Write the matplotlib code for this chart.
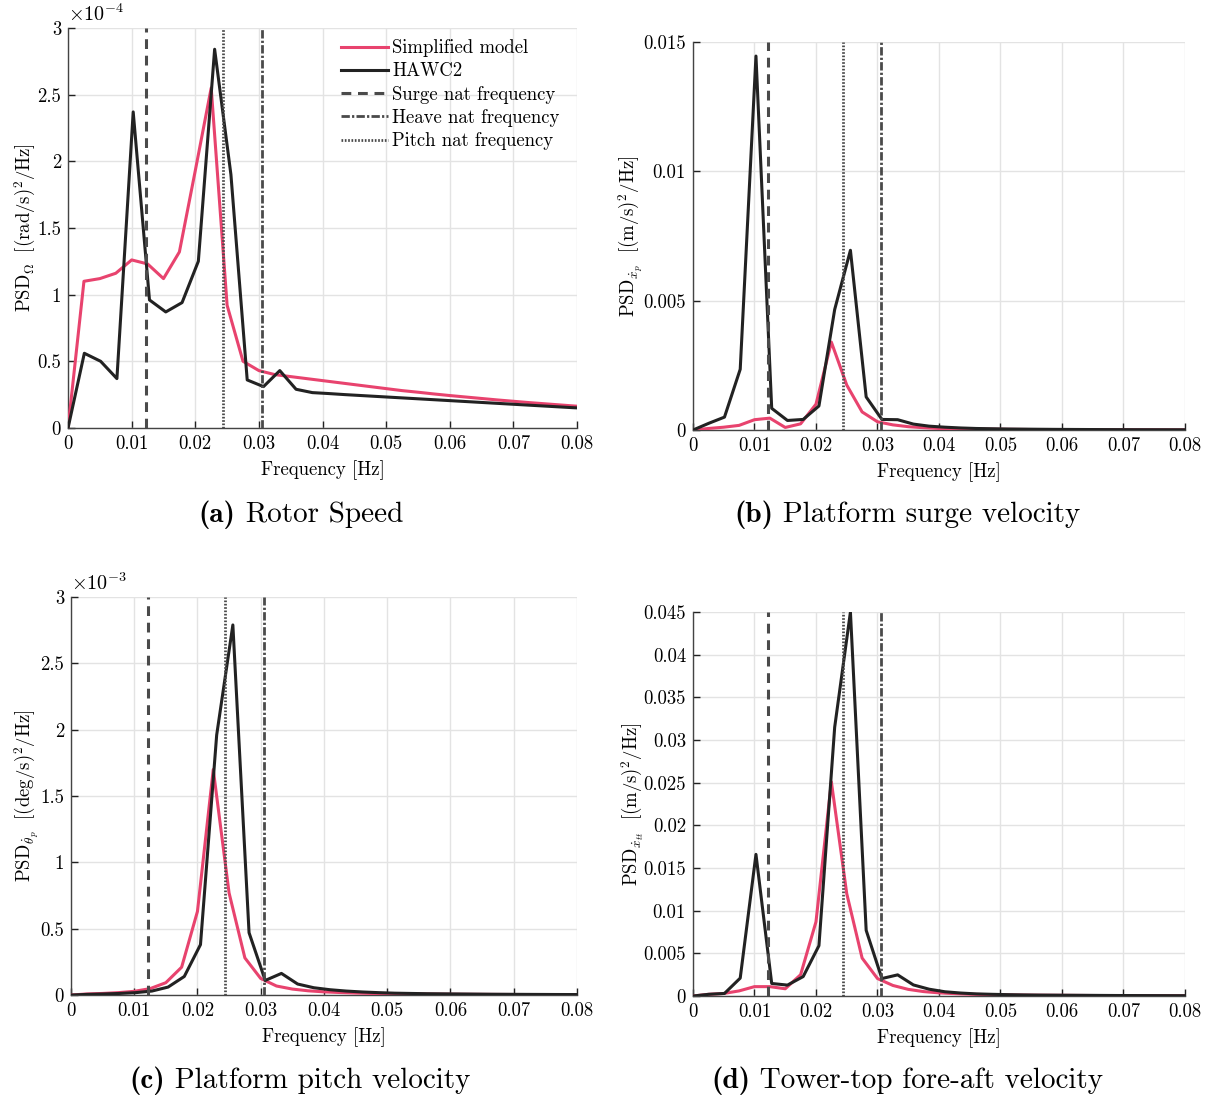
import matplotlib
matplotlib.use("Agg")
import matplotlib.pyplot as plt
from matplotlib.ticker import FuncFormatter

plt.rcParams['font.family'] = 'cmr10'
plt.rcParams['mathtext.fontset'] = 'cm'
plt.rcParams['axes.unicode_minus'] = False

# frequency grids [Hz]
freq_simp = [0, 0.0025, 0.005, 0.0075, 0.01, 0.0125, 0.015, 0.0175, 0.02, 0.0225, 0.025,
             0.0275, 0.03, 0.0325, 0.035, 0.0375, 0.04, 0.0425, 0.045, 0.0475, 0.05,
             0.0525, 0.055, 0.0575, 0.06, 0.0625, 0.065, 0.0675, 0.07, 0.0725, 0.075,
             0.0775, 0.08]
freq_hawc = [0, 0.00256, 0.00512, 0.00768, 0.01024, 0.0128, 0.01536, 0.01792, 0.02048,
             0.02304, 0.0256, 0.02816, 0.03072, 0.03328, 0.03584, 0.0384, 0.04096, 0.04352,
             0.04608, 0.04864, 0.0512, 0.05376, 0.05632, 0.05888, 0.06144, 0.064, 0.06656,
             0.06912, 0.07168, 0.07424, 0.0768, 0.07936, 0.08192]

# natural frequencies [Hz]
f_surge = 0.0122
f_heave = 0.0305
f_pitch = 0.0244

# (a) rotor speed, units of 1e-4
rotor_simp = [0, 1.10, 1.12, 1.16, 1.26, 1.23, 1.12, 1.32, 1.93, 2.55, 0.92, 0.50, 0.43,
              0.40, 0.385, 0.37, 0.355, 0.34, 0.325, 0.31, 0.295, 0.28, 0.268, 0.255,
              0.243, 0.232, 0.221, 0.21, 0.20, 0.19, 0.181, 0.172, 0.163]
rotor_hawc = [0, 0.56, 0.50, 0.37, 2.37, 0.96, 0.87, 0.94, 1.25, 2.84, 1.90, 0.36, 0.31,
              0.43, 0.29, 0.265, 0.258, 0.25, 0.243, 0.236, 0.229, 0.222, 0.215, 0.208,
              0.201, 0.194, 0.187, 0.18, 0.173, 0.166, 0.159, 0.152, 0.146]

# (b) platform surge velocity
surge_simp = [0, 0.00006, 0.00011, 0.00018, 0.00040, 0.00046, 0.00010, 0.00024, 0.00100,
              0.00340, 0.00174, 0.00070, 0.00032, 0.00020, 0.00013, 0.00009, 0.00006,
              0.00005, 0.00004, 0.000035, 0.00003, 0.000025, 0.00002, 0.00002, 0.000018,
              0.000016, 0.000014, 0.000012, 0.00001, 0.00001, 0.000009, 0.000008, 0.000008]
surge_hawc = [0, 0.00026, 0.00050, 0.00235, 0.01446, 0.00084, 0.00037, 0.00041, 0.00093,
              0.00466, 0.00695, 0.00128, 0.00041, 0.00040, 0.00023, 0.00015, 0.00011,
              0.00008, 0.00006, 0.00005, 0.00004, 0.000035, 0.00003, 0.000026, 0.000023,
              0.00002, 0.000018, 0.000016, 0.000014, 0.000013, 0.000012, 0.000011, 0.00001]

# (c) platform pitch velocity, units of 1e-3
pitch_simp = [0, 0.008, 0.012, 0.018, 0.028, 0.048, 0.093, 0.21, 0.63, 1.70, 0.77, 0.28,
              0.125, 0.068, 0.045, 0.032, 0.024, 0.019, 0.015, 0.012, 0.010, 0.009, 0.008,
              0.007, 0.006, 0.0055, 0.005, 0.0045, 0.004, 0.0037, 0.0034, 0.0031, 0.003]
pitch_hawc = [0, 0.005, 0.008, 0.012, 0.018, 0.030, 0.060, 0.14, 0.38, 1.96, 2.79, 0.47,
              0.11, 0.163, 0.083, 0.055, 0.040, 0.030, 0.023, 0.018, 0.014, 0.012, 0.010,
              0.009, 0.008, 0.007, 0.006, 0.0055, 0.005, 0.0045, 0.004, 0.0037, 0.0034]

# (d) tower-top fore-aft velocity
tower_simp = [0, 0.0002, 0.0003, 0.0006, 0.0011, 0.0011, 0.00085, 0.0025, 0.0087, 0.0251,
              0.0120, 0.00445, 0.00205, 0.00124, 0.00078, 0.00052, 0.00037, 0.00028,
              0.00021, 0.00017, 0.00014, 0.00012, 0.0001, 0.00009, 0.00008, 0.00007,
              0.00006, 0.000055, 0.00005, 0.000045, 0.00004, 0.000037, 0.000034]
tower_hawc = [0, 0.0002, 0.0003, 0.0021, 0.0166, 0.00147, 0.00128, 0.00228, 0.0059, 0.0315,
              0.0450, 0.0077, 0.00205, 0.00248, 0.0013, 0.0008, 0.0005, 0.00035, 0.00025,
              0.0002, 0.00016, 0.00013, 0.00011, 0.0001, 0.00009, 0.00008, 0.00007,
              0.00006, 0.000055, 0.00005, 0.000045, 0.00004, 0.000037]

pink = '#e8436e'
dark = '#222222'
vcol = '#4a4a4a'

fig = plt.figure(figsize=(12.13, 10.99), dpi=100)
renderer = fig.canvas.get_renderer()

panels = [
    # rect, simp, hawc, ymax, ystep, ylabel, caption tag, caption, caption pos, offset
    ([0.0561, 0.6106, 0.4196, 0.3640], rotor_simp, rotor_hawc, 3, 0.5,
     r'$\mathrm{PSD}_{\Omega}\ \ [(\mathrm{rad/s})^2/\mathrm{Hz}]$',
     '(a)', 'Rotor Speed', (0.248, 0.532), r'$\times10^{-4}$'),
    ([0.5713, 0.6087, 0.4056, 0.3530], surge_simp, surge_hawc, 0.015, 0.005,
     r'$\mathrm{PSD}_{\dot{x}_p}\ \ [(\mathrm{m/s})^2/\mathrm{Hz}]$',
     '(b)', 'Platform surge velocity', (0.748, 0.532), None),
    ([0.0585, 0.0946, 0.4171, 0.3621], pitch_simp, pitch_hawc, 3, 0.5,
     r'$\mathrm{PSD}_{\dot{\theta}_p}\ \ [(\mathrm{deg/s})^2/\mathrm{Hz}]$',
     '(c)', 'Platform pitch velocity', (0.2475, 0.0164), r'$\times10^{-3}$'),
    ([0.5713, 0.0937, 0.4056, 0.3494], tower_simp, tower_hawc, 0.045, 0.005,
     r'$\mathrm{PSD}_{\dot{x}_{tt}}\ \ [(\mathrm{m/s})^2/\mathrm{Hz}]$',
     '(d)', 'Tower-top fore-aft velocity', (0.748, 0.0164), None),
]

for i, (rect, simp, hawc, ymax, ystep, ylab, tag, cap, cpos, offs) in enumerate(panels):
    ax = fig.add_axes(rect)
    ax.plot(freq_simp, simp, color=pink, lw=2.2, label='Simplified model', zorder=3)
    ax.plot(freq_hawc, hawc, color=dark, lw=2.2, label='HAWC2', zorder=3)
    ax.axvline(f_surge, color=vcol, lw=2.2, ls=(0, (3.2, 2.2)), label='Surge nat frequency', zorder=4)
    ax.axvline(f_heave, color=vcol, lw=2.0, ls=(0, (3.0, 0.8, 0.8, 0.8)), label='Heave nat frequency', zorder=4)
    ax.axvline(f_pitch, color=vcol, lw=2.0, ls=(0, (0.6, 0.6)), label='Pitch nat frequency', zorder=4)

    ax.set_xlim(0, 0.08)
    ax.set_ylim(0, ymax)
    ax.set_xticks([k * 0.01 for k in range(9)])
    n = int(round(ymax / ystep))
    ax.set_yticks([k * ystep for k in range(n + 1)])
    ax.xaxis.set_major_formatter(FuncFormatter(lambda v, p: '%g' % round(v, 6)))
    ax.yaxis.set_major_formatter(FuncFormatter(lambda v, p: '%g' % round(v, 6)))
    ax.tick_params(direction='in', length=5, width=1, labelsize=13.5, colors='#222222',
                   labelcolor='black', pad=5)
    ax.grid(True, color='#e3e3e3', lw=1)
    ax.set_axisbelow(True)
    for s in ['top', 'right']:
        ax.spines[s].set_visible(False)
    for s in ['left', 'bottom']:
        ax.spines[s].set_color('#444444')
        ax.spines[s].set_linewidth(1)

    ax.set_xlabel('Frequency [Hz]', fontsize=13.5, labelpad=5)
    ax.set_ylabel(ylab, fontsize=13.5, labelpad=-1)
    if offs:
        ax.text(0.0, 1.008, offs, transform=ax.transAxes, fontsize=14.5, ha='left', va='bottom')

    # caption: bold tag + regular text, centred together
    t1 = fig.text(0, cpos[1], tag, fontsize=21, family='cmb10', ha='left', va='center')
    t2 = fig.text(0, cpos[1], ' ' + cap, fontsize=21, ha='left', va='center')
    w1 = t1.get_window_extent(renderer).width / fig.bbox.width
    w2 = t2.get_window_extent(renderer).width / fig.bbox.width
    x0 = cpos[0] - (w1 + w2) / 2
    t1.set_x(x0)
    t2.set_x(x0 + w1)

    if i == 0:
        ax.legend(loc='upper left', bbox_to_anchor=(0.517, 0.995), frameon=False,
                  fontsize=13.5, handlelength=2.55, handletextpad=0.2, labelspacing=0.28,
                  borderpad=0)

fig.savefig('out.png', dpi=100)
